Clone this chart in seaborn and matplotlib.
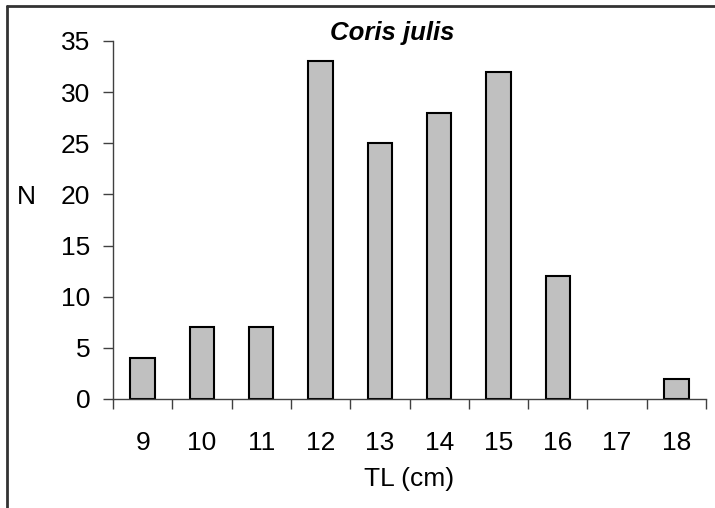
import matplotlib
matplotlib.use('Agg')
import matplotlib.pyplot as plt
import seaborn as sns
import pandas as pd
from matplotlib.lines import Line2D

length_cm = ['9', '10', '11', '12', '13', '14', '15', '16', '17', '18']
counts = [4, 7, 7, 33, 25, 28, 32, 12, 0, 2]
y_ticks = [0, 5, 10, 15, 20, 25, 30, 35]

df = pd.DataFrame({'TL': length_cm, 'N': counts})

sns.set_style('white')
plt.rcParams['font.family'] = ['Liberation Sans', 'DejaVu Sans']
plt.rcParams['text.color'] = 'black'
plt.rcParams['axes.labelcolor'] = 'black'
plt.rcParams['xtick.color'] = 'black'
plt.rcParams['ytick.color'] = 'black'

fs = 19

fig = plt.figure(figsize=(7.15, 5.08), dpi=100)
ax = fig.add_axes([113 / 715, 1 - 399 / 508, (706 - 113) / 715, (399 - 41) / 508])

sns.barplot(data=df, x='TL', y='N', order=length_cm, color='#c0c0c0',
            saturation=1, width=0.41, edgecolor='black', linewidth=1.5, ax=ax)

# empty class: no outline drawn
for bar in ax.patches:
    if bar.get_height() == 0:
        bar.set_linewidth(0)

ax.set_xlim(-0.5, len(length_cm) - 0.5)
ax.set_ylim(0, 35)
ax.set_yticks(y_ticks)
ax.set_yticklabels([str(v) for v in y_ticks], fontsize=fs)

# ticks sit between categories, labels under category centres
ax.set_xticks(range(len(length_cm)))
ax.set_xticklabels(length_cm, fontsize=fs)
ax.set_xticks([i - 0.5 for i in range(len(length_cm) + 1)], minor=True)
ax.tick_params(axis='x', which='major', length=0, pad=23, labelcolor='black')
ax.tick_params(axis='x', which='minor', bottom=True, length=7.2, width=1,
               color='#404040', direction='out')
ax.tick_params(axis='y', which='major', left=True, length=7.2, width=1,
               color='#404040', pad=9, direction='out', labelcolor='black')

for side in ['top', 'right']:
    ax.spines[side].set_visible(False)
for side in ['left', 'bottom']:
    ax.spines[side].set_color('#404040')
    ax.spines[side].set_linewidth(1)

ax.set_xlabel('TL (cm)', fontsize=fs, labelpad=9, color='black')
ax.set_ylabel('N', fontsize=fs, rotation=0, color='black', va='center', ha='center')
ax.yaxis.set_label_coords(-0.146, 0.564)

fig.text(392 / 715, 1 - 33 / 508, 'Coris julis', fontsize=18.5, fontstyle='italic',
         fontweight='bold', ha='center', va='center', color='black')

# outer chart frame (only left and top edges fall inside the picture)
fig.add_artist(Line2D([7 / 715, 7 / 715], [0, 1 - 6 / 508], transform=fig.transFigure,
                      color='#333333', linewidth=2))
fig.add_artist(Line2D([7 / 715, 1], [1 - 6 / 508, 1 - 6 / 508], transform=fig.transFigure,
                      color='#333333', linewidth=2))

fig.savefig('out.png', dpi=100)
